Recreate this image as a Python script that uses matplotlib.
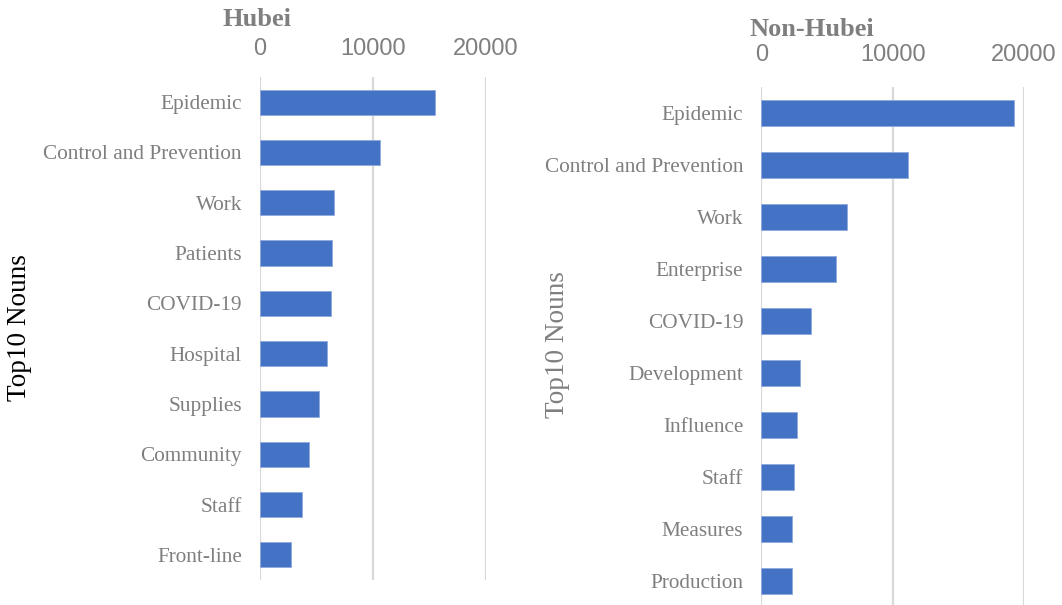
import matplotlib.pyplot as plt

# Hubei top 10 nouns
hubei_nouns = ["Epidemic", "Control and Prevention", "Work", "Patients", "COVID-19",
               "Hospital", "Supplies", "Community", "Staff", "Front-line"]
hubei_counts = [15550, 10640, 6520, 6340, 6310, 5960, 5220, 4360, 3730, 2790]

# Non-Hubei top 10 nouns
other_nouns = ["Epidemic", "Control and Prevention", "Work", "Enterprise", "COVID-19",
               "Development", "Influence", "Staff", "Measures", "Production"]
other_counts = [19220, 11200, 6550, 5710, 3810, 2920, 2690, 2510, 2360, 2310]

x_ticks = [0, 10000, 20000]

bar_color = "#4472C4"
gray = "#7f7f7f"
grid_color = "#d9d9d9"
W, H = 1062, 605


def draw_panel(ax, nouns, counts, pad):
    pos = list(range(len(nouns)))
    ax.barh(pos, counts, height=0.5, color=bar_color, edgecolor="#8eaadb", linewidth=0.6, zorder=3)
    ax.set_ylim(len(nouns) - 0.5, -0.5)
    ax.set_xlim(0, 20000)
    ax.set_yticks(pos)
    ax.set_yticklabels(nouns, family="Liberation Serif", fontsize=15.3, color=gray)
    ax.set_xticks(x_ticks)
    ax.set_xticklabels([str(t) for t in x_ticks], family="Liberation Sans", fontsize=17, color=gray)
    ax.xaxis.tick_top()
    ax.tick_params(axis="x", length=0, pad=pad)
    ax.tick_params(axis="y", length=0, pad=13)
    for s in ax.spines.values():
        s.set_visible(False)
    ax.grid(axis="x", color=grid_color, linewidth=1.6, zorder=0)
    ax.set_axisbelow(True)


fig = plt.figure(figsize=(W / 100, H / 100), dpi=100)

ax1 = fig.add_axes([260 / W, (H - 580) / H, (485.7 - 260) / W, 503 / H])
draw_panel(ax1, hubei_nouns, hubei_counts, 12)

ax2 = fig.add_axes([761.3 / W, (H - 607) / H, (1024 - 761.3) / W, 520 / H])
draw_panel(ax2, other_nouns, other_counts, 15)

fig.text(257 / W, 1 - 20 / H, "Hubei", family="Liberation Serif", fontweight="bold",
         fontsize=19, color=gray, ha="center", va="center")
fig.text(812 / W, 1 - 30 / H, "Non-Hubei", family="Liberation Serif", fontweight="bold",
         fontsize=19, color=gray, ha="center", va="center")

fig.text(20 / W, 1 - 328 / H, "Top10 Nouns", family="Liberation Serif", fontsize=19.6,
         color="black", rotation=90, ha="center", va="center")
fig.text(557 / W, 1 - 345 / H, "Top10 Nouns", family="Liberation Serif", fontsize=19.6,
         color=gray, rotation=90, ha="center", va="center")

fig.savefig("out.png", dpi=100)
